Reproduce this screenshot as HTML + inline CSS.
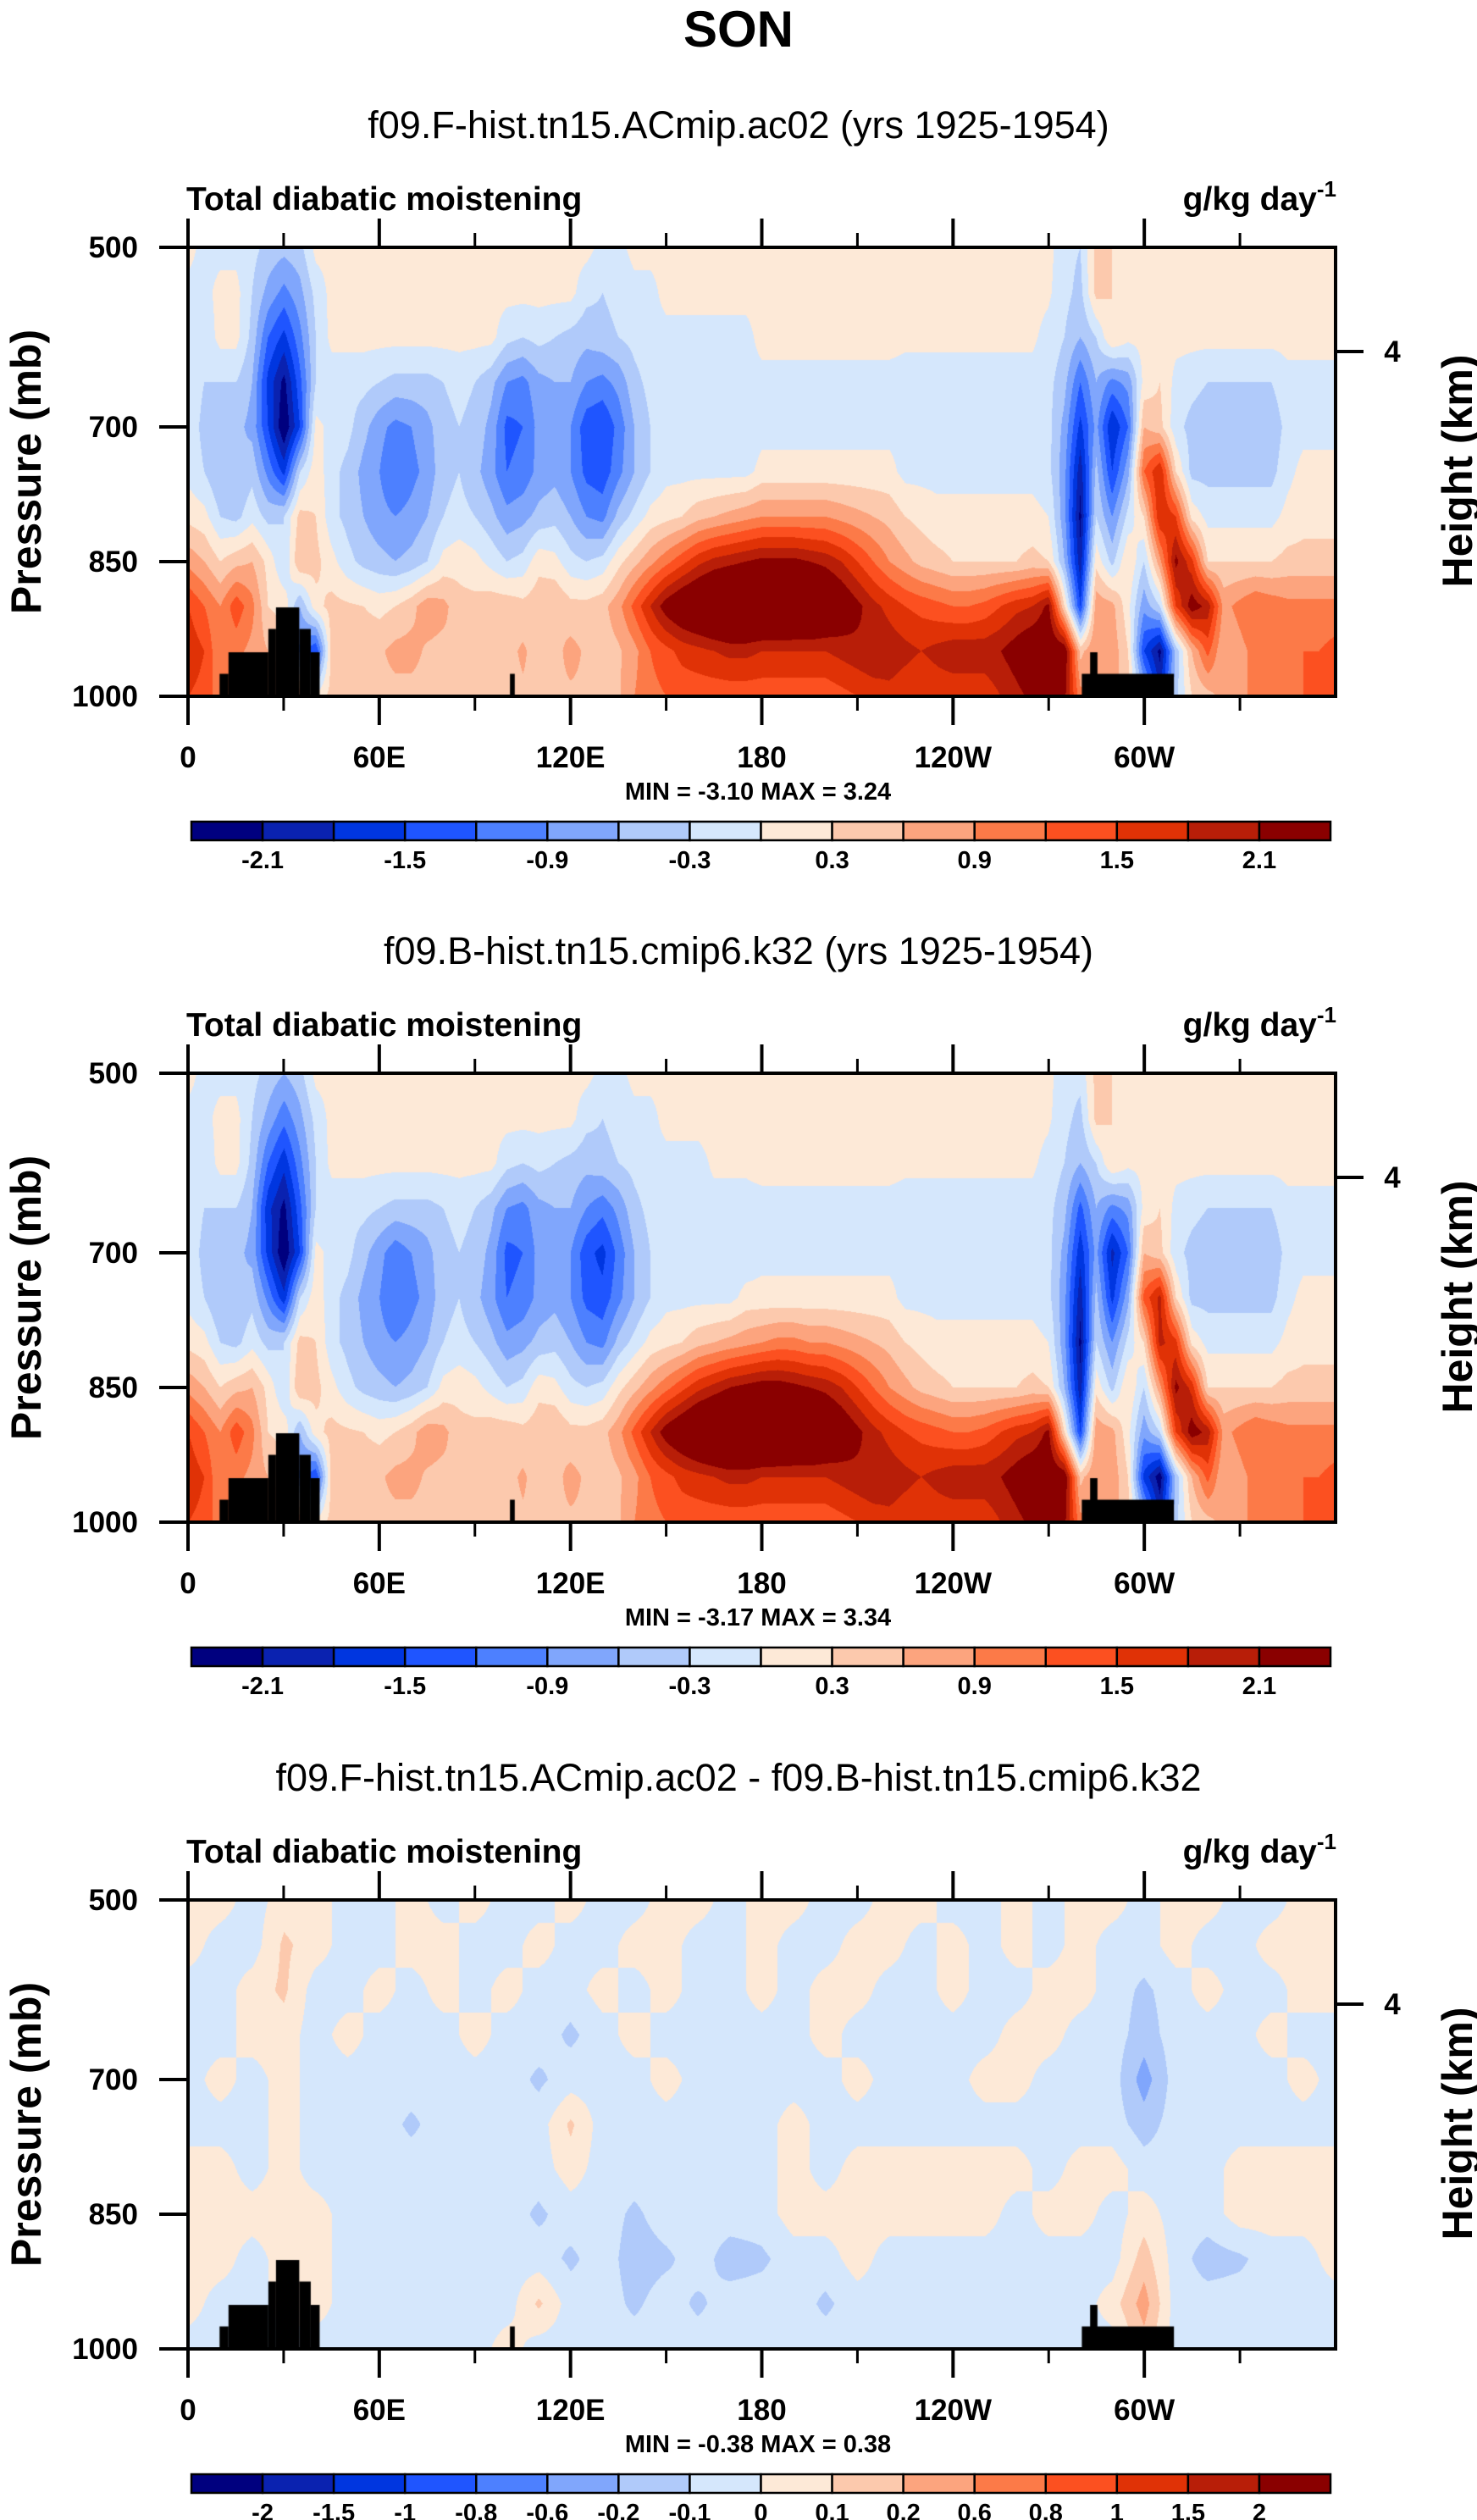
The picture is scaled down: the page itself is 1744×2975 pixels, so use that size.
<!DOCTYPE html>
<html><head><meta charset="utf-8">
<style>
html,body{margin:0;padding:0;background:#fff;}
#root{position:relative;width:1744px;height:2975px;overflow:hidden;background:#fff;}
canvas{position:absolute;}
svg{position:absolute;left:0;top:0;}
text{font-family:"Liberation Sans",Arial,sans-serif;}
</style></head>
<body>
<div id="root">
<canvas id="c1" width="1355" height="530" style="left:222px;top:292px"></canvas>
<canvas id="c2" width="1355" height="530" style="left:222px;top:1267px"></canvas>
<canvas id="c3" width="1355" height="530" style="left:222px;top:2243px"></canvas>
<svg id="ov" width="1744" height="2975"></svg>
</div>
<script>
// ---------- data ----------
const colors=["#00007f","#0a22b0","#0036e0","#1f55ff","#4d80ff","#80a6fc","#b0cafa","#d5e7fc","#fde9d7","#fcc9ad","#fca47e","#fc7a48","#fc5020","#e03206","#b81e08","#8a0000"];
const levels1=[-2.1,-1.8,-1.5,-1.2,-0.9,-0.6,-0.3,0,0.3,0.6,0.9,1.2,1.5,1.8,2.1];
const cbLabels1=["-2.1","","-1.5","","-0.9","","-0.3","","0.3","","0.9","","1.5","","2.1"];
const levels3=[-2,-1.5,-1,-0.8,-0.6,-0.2,-0.1,0,0.1,0.2,0.6,0.8,1,1.5,2];
const cbLabels3=["-2","-1.5","-1","-0.8","-0.6","-0.2","-0.1","0","0.1","0.2","0.6","0.8","1","1.5","2"];
const lonTicks=[0,60,120,180,240,300];
const lonLabels=["0","60E","120E","180","120W","60W"];
const lonMinor=[30,90,150,210,270,330];
const pTicks=[500,700,850,1000];
const heightTickP=[616];
const heightLabels=["4"];
const pressures=[500,550,600,650,700,750,800,850,900,950,1000];
const landLon0=[9.9,12.7,25.2,27.6,34.9,38.5,101,280.4,283];
const landLon1=[12.7,25.2,27.6,34.9,38.5,41.3,102.5,309.3,285.3];
const landTop=[975,951,925,901,925,951,975,975,951];
const subtitles=["f09.F-hist.tn15.ACmip.ac02 (yrs 1925-1954)","f09.B-hist.tn15.cmip6.k32 (yrs 1925-1954)","f09.F-hist.tn15.ACmip.ac02 - f09.B-hist.tn15.cmip6.k32"];
const minmax=["MIN = -3.10  MAX =  3.24","MIN = -3.17  MAX =  3.34","MIN = -0.38  MAX =  0.38"];

const field1=[
[0.1,-0.1,-0.1,-0.1,-0.2,-0.4,-0.5,-0.4,0.1, 0.1,0.1,0.1,0.1,0.1,0.1,0.1,0.1,0.1,0.1,0.1,0.1,0.1,0.1,0.1,0.1,0.1, -0.1,-0.1, 0.1,0.1,0.1,0.1,0.1,0.1,0.1,0.1,0.1,0.1,0.1,0.1,0.1,0.1,0.1,0.1,0.1,0.1,0.1,0.1,0.1,0.1,0.1,0.1,0.1,0.1,0.1, -0.2,-0.3,0.4,0.3,0.1, 0.1,0.1,0.1,0.1,0.1,0.1,0.1,0.1,0.1,0.1,0.1,0.1,0.1],
[-0.1,-0.1,0.1,0.1,-0.3,-0.7,-1.0,-0.7,-0.2, 0.1,0.1,0.1,0.1,0.1,0.1,0.1,0.1,0.1,0.1,0.1,0.1,0.1,0.1,0.1,0.1, -0.2,-0.3,-0.2,-0.1,-0.1, 0.1,0.1,0.1,0.1,0.1,0.1,0.1,0.1,0.1,0.1,0.1,0.1,0.1,0.1,0.1,0.1,0.1,0.1,0.1,0.1,0.1,0.1,0.1,0.1, 0.05,-0.2,-0.4,0.4,0.3,0.1, 0.1,0.1,0.1,0.1,0.1,0.1,0.1,0.1,0.1,0.1,0.1,0.1,0.1],
[-0.1,-0.2,0.1,0.1,-0.4,-1.2,-1.6,-1.0,-0.3, 0.1,0.1,0.1,0.1,0.1,0.1,0.1,0.1,0.1,0.1,0.1, -0.2,-0.3,-0.2,-0.3,-0.4,-0.5,-0.4,-0.3,-0.2, -0.1,-0.1,-0.1,-0.1,-0.1,-0.1,-0.1, 0.1,0.1,0.1,0.1,0.1,0.1,0.1,0.1,0.1, 0.05,0.05,0.05,0.05,0.05,0.05,0.05,0.05,0.05, -0.1,-0.3,-0.6,-0.3,0.3,0.1, 0.1,0.1,0.1,0.1,0.1,0.1,0.1,0.1,0.1,0.1,0.1,0.1,0.1],
[-0.1,-0.3,-0.3,-0.3,-0.6,-1.6,-2.2,-1.3,-0.3,-0.2,-0.2,-0.2,-0.3,-0.4,-0.4,-0.4,-0.3,-0.2,-0.3,-0.5,-0.9,-1.0,-0.7,-0.6,-0.6,-0.9,-1.0,-0.8,-0.4,-0.2, -0.1,-0.1,-0.1,-0.1,-0.1,-0.1,-0.1,-0.1,-0.1,-0.1,-0.1,-0.1,-0.1,-0.1,-0.1,-0.1,-0.1,-0.1,-0.1,-0.1,-0.1,-0.1,-0.1,-0.1, -0.2,-0.5,-1.2,-0.6,-1.0,-0.8,0.1,0.3,-0.1,-0.2,-0.3,-0.3,-0.3,-0.3,-0.3,-0.1,-0.1,-0.1,-0.1],
[-0.1,-0.4,-0.5,-0.5,-0.7,-1.5,-2.4,-1.5,0.1,-0.1,-0.2,-0.5,-0.8,-1.0,-0.9,-0.7,-0.4,-0.3,-0.4,-0.7,-1.3,-1.2,-0.8,-0.7,-0.9,-1.4,-1.5,-1.1,-0.6,-0.3, -0.2,-0.2,-0.2,-0.2,-0.2,-0.2, -0.1,-0.1,-0.1,-0.1,-0.1,-0.1,-0.1,-0.1,-0.1,-0.1,-0.1,-0.1,-0.1,-0.1,-0.1,-0.1,-0.1,-0.1, -0.2,-0.7,-1.6,-0.8,-1.8,-1.2,0.6,0.4,-0.2,-0.4,-0.5,-0.5,-0.5,-0.5,-0.5,-0.2,-0.1,-0.1,-0.1],
[-0.1,-0.3,-0.6,-0.6,-0.4,-1.0,-1.6,-0.3,0.2,-0.2,-0.4,-0.7,-0.9,-1.2,-1.0,-0.8,-0.4,-0.3,-0.5,-0.8,-1.2,-1.1,-0.8,-0.7,-0.9,-1.3,-1.4,-1.0,-0.6,-0.3, -0.1,-0.1,-0.1,-0.1,-0.1,-0.1, 0.1,0.1,0.1,0.1,0.1,0.1,0.1,0.1,0.1, -0.1,-0.1,-0.1,-0.1,-0.1,-0.1,-0.1,-0.1,-0.1, -0.2,-0.8,-2.0,-0.5,-1.5,-0.7,1.2,1.8,0.3,-0.4,-0.4,-0.4,-0.4,-0.4,-0.4,-0.1,0.1,0.1,0.1],
[0.2,0.1,-0.3,-0.4,-0.1,-0.4,-0.3,0.4,0.3,-0.2,-0.4,-0.6,-0.8,-0.9,-0.8,-0.6,-0.3,-0.2,-0.3,-0.5,-0.8,-0.7,-0.5,-0.4,-0.6,-0.9,-1.0,-0.5,-0.2,0.1, 0.2,0.3,0.5,0.6,0.7,0.8,0.9,0.9,0.9,0.9,0.9,0.8,0.7,0.6,0.5,0.3,0.2, 0.1,0.1,0.1,0.1,0.1,0.1,0.1, 0.0,-0.8,-2.2,-0.3,-0.9,-0.2,0.3,1.8,1.5,0.2,-0.1,-0.1,-0.1,-0.1,-0.1,0.1,0.2,0.2,0.2],
[0.8,0.6,0.3,0.5,0.6,0.2,-0.3,0.6,0.4,0.1,-0.2,-0.4,-0.5,-0.6,-0.5,-0.3,0.1,0.2,0.1,-0.1,-0.3,-0.2,0.2,0.1,-0.2,-0.3,-0.2,0.2,0.5,0.8, 1.1,1.4,1.7,1.9,2.0,2.1,2.2,2.2,2.2,2.1,2.0,1.8,1.5,1.2,0.9,0.7,0.5,0.4, 0.3,0.3,0.3,0.3,0.3, 0.4,0.3,-0.6,-2.0,0.2,-0.4,0.3,-0.3,0.8,2.2,1.6,0.3,0.3,0.3,0.3,0.3,0.4,0.4,0.4,0.4],
[1.5,1.2,0.9,1.4,1.0,0.3,0.2,-0.6,0.2, 0.4,0.35,0.3,0.2,0.3,0.5,0.8,0.7,0.4,0.4,0.5,0.5,0.4,0.5,0.6,0.4,0.4,0.5,0.8, 1.3,1.8, 2.3,2.6,2.8,3.0,3.1,3.1,3.1,3.1,3.0,3.0,2.8,2.5,2.2,1.9,1.7,1.5,1.4,1.3,1.2,1.2,1.3,1.5,1.7,1.8, 2.2,0.3,-1.5,0.8,0.7,0.1,-0.8,-0.3,1.5,2.3,2.0,0.8,1.0,1.2,1.1,1.0,1.0,1.0,1.0],
[1.7,1.5,0.9,1.0,0.8,0.6,0.4,-1.0,-1.5, 0.45,0.5,0.5,0.55,0.7,0.7,0.55,0.5,0.6,0.5,0.45,0.5,0.65,0.45,0.5,0.7,0.55,0.45,0.55,0.8, 1.2,1.4,1.6,1.7,1.8,1.9,1.9,1.8,1.8,1.8,1.8,1.8,1.9,2.0,2.1,2.0,1.9,1.8,1.9,2.0,2.0,2.0,2.1,2.3,2.5, 2.5,2.4,0.5,0.9,0.8,0.3,-1.5,-2.2,-0.5,0.6,1.3,0.6,0.8,1.0,1.1,1.2,1.2,1.2,1.3],
[1.5,1.4,1.0,0.9,0.9,0.9,0.9,0.9,0.1, 0.4,0.45,0.5,0.5,0.5,0.5,0.5,0.5,0.5,0.5,0.5,0.5,0.55,0.55,0.55,0.55,0.55,0.55,0.55, 0.9,1.1,1.2,1.3,1.3,1.3,1.3,1.3,1.3,1.3,1.3,1.3,1.3,1.4,1.5,1.6,1.7,1.6,1.5,1.6,1.6,1.6,1.6,1.8,2.0,2.2, 2.4,2.2,1.0,0.9,0.7,0.5,-0.5,-1.8,-0.4,0.3,0.5,0.7,0.9,0.9,1.0,1.1,1.2,1.3,1.4]
];
const field2=[
[0.1,-0.1,-0.1,-0.1,-0.2,-0.4,-0.6,-0.4,0.1, 0.1,0.1,0.1,0.1,0.1,0.1,0.1,0.1,0.1,0.1,0.1,0.1,0.1,0.1,0.1,0.1,0.1, -0.1,-0.1, 0.1,0.1,0.1,0.1,0.1,0.1,0.1,0.1,0.1,0.1,0.1,0.1,0.1,0.1,0.1,0.1,0.1,0.1,0.1,0.1,0.1,0.1,0.1,0.1,0.1,0.1,0.1, -0.2,-0.2,0.4,0.3,0.1, 0.1,0.1,0.1,0.1,0.1,0.1,0.1,0.1,0.1,0.1,0.1,0.1,0.1],
[-0.1,-0.1,0.1,0.1,-0.3,-0.7,-1.1,-0.7,-0.2, 0.1,0.1,0.1,0.1,0.1,0.1,0.1,0.1,0.1,0.1,0.1,0.1,0.1,0.1,0.1,0.1, -0.2,-0.3,-0.2,-0.1,-0.1, 0.1,0.1,0.1,0.1,0.1,0.1,0.1,0.1,0.1,0.1,0.1,0.1,0.1,0.1,0.1,0.1,0.1,0.1,0.1,0.1,0.1,0.1,0.1,0.1, 0.05,-0.2,-0.4,0.4,0.3,0.1, 0.1,0.1,0.1,0.1,0.1,0.1,0.1,0.1,0.1,0.1,0.1,0.1,0.1],
[-0.1,-0.2,0.1,0.1,-0.4,-1.2,-1.7,-1.0,-0.3, 0.1,0.1,0.1,0.1,0.1,0.1,0.1,0.1,0.1,0.1,0.1, -0.2,-0.3,-0.2,-0.3,-0.4,-0.5,-0.4,-0.3,-0.2, -0.1,-0.1,-0.1,-0.1,0.05,0.05,0.05, 0.1,0.1,0.1,0.1,0.1,0.1,0.1,0.1,0.1, 0.05,0.05,0.05,0.05,0.05,0.05,0.05,0.05,0.05, -0.1,-0.3,-0.6,-0.3,0.3,0.1, 0.1,0.1,0.1,0.1,0.1,0.1,0.1,0.1,0.1,0.1,0.1,0.1,0.1],
[-0.1,-0.3,-0.3,-0.3,-0.6,-1.7,-2.2,-1.3,-0.3,-0.2,-0.2,-0.2,-0.3,-0.4,-0.4,-0.4,-0.3,-0.2,-0.3,-0.5,-0.9,-1.0,-0.7,-0.6,-0.6,-0.9,-1.1,-0.8,-0.4,-0.2, -0.1,-0.1,-0.1,-0.1,-0.1,-0.1,-0.1,-0.1,-0.1,-0.1,-0.1,-0.1,-0.1,-0.1,-0.1,-0.1,-0.1,-0.1,-0.1,-0.1,-0.1,-0.1,-0.1,-0.1, -0.2,-0.5,-1.3,-0.6,-1.0,-0.8,0.1,0.3,-0.1,-0.2,-0.3,-0.3,-0.3,-0.3,-0.3,-0.1,-0.1,-0.1,-0.1],
[-0.1,-0.4,-0.5,-0.5,-0.7,-1.6,-2.4,-1.5,0.1,-0.1,-0.2,-0.5,-0.8,-1.1,-0.9,-0.7,-0.4,-0.3,-0.4,-0.7,-1.3,-1.2,-0.8,-0.7,-0.9,-1.4,-1.6,-1.1,-0.6,-0.3, -0.2,-0.2,-0.2,-0.2,-0.2,-0.2, -0.1,-0.1,-0.1,-0.1,-0.1,-0.1,-0.1,-0.1,-0.1,-0.1,-0.1,-0.1,-0.1,-0.1,-0.1,-0.1,-0.1,-0.1, -0.2,-0.7,-1.7,-0.8,-1.9,-1.2,0.6,0.4,-0.2,-0.4,-0.5,-0.5,-0.5,-0.5,-0.5,-0.2,-0.1,-0.1,-0.1],
[-0.1,-0.3,-0.6,-0.6,-0.4,-1.0,-1.7,-0.3,0.2,-0.2,-0.4,-0.7,-0.9,-1.2,-1.0,-0.8,-0.4,-0.3,-0.5,-0.8,-1.2,-1.1,-0.8,-0.7,-0.9,-1.3,-1.4,-1.0,-0.6,-0.3, -0.1,-0.1,-0.1,-0.1,-0.1,0.1, 0.1,0.1,0.1,0.1,0.1,0.1,0.1,0.1,0.1, -0.1,-0.1,-0.1,-0.1,-0.1,-0.1,-0.1,-0.1,-0.1, -0.2,-0.8,-2.0,-0.5,-1.6,-0.7,1.3,1.9,0.3,-0.4,-0.4,-0.4,-0.4,-0.4,-0.4,-0.1,0.1,0.1,0.1],
[0.2,0.1,-0.3,-0.4,-0.1,-0.4,-0.3,0.4,0.3,-0.2,-0.4,-0.6,-0.8,-0.9,-0.8,-0.6,-0.3,-0.2,-0.3,-0.5,-0.8,-0.7,-0.5,-0.4,-0.6,-0.9,-1.0,-0.5,-0.2,0.1, 0.2,0.3,0.5,0.6,0.7,0.8,0.9,1.0,1.0,0.9,0.9,0.8,0.7,0.6,0.5,0.3,0.2, 0.1,0.1,0.1,0.1,0.1,0.1,0.1, 0.0,-0.8,-2.2,-0.3,-0.9,-0.2,0.3,1.9,1.6,0.2,-0.1,-0.1,-0.1,-0.1,-0.1,0.1,0.2,0.2,0.2],
[0.8,0.6,0.3,0.5,0.6,0.2,-0.3,0.6,0.4,0.1,-0.2,-0.4,-0.5,-0.6,-0.5,-0.3,0.1,0.2,0.1,-0.1,-0.3,-0.2,0.2,0.1,-0.2,-0.3,-0.2,0.2,0.5,0.8, 1.1,1.4,1.7,1.9,2.1,2.2,2.3,2.3,2.2,2.1,2.0,1.8,1.5,1.2,0.9,0.7,0.5,0.4, 0.3,0.3,0.3,0.3,0.3, 0.4,0.3,-0.6,-2.0,0.2,-0.4,0.3,-0.3,0.8,2.2,1.7,0.3,0.3,0.3,0.3,0.3,0.4,0.4,0.4,0.4],
[1.5,1.2,0.9,1.4,1.0,0.3,0.2,-0.6,0.2, 0.4,0.35,0.3,0.2,0.3,0.5,0.8,0.7,0.4,0.4,0.5,0.5,0.4,0.5,0.6,0.4,0.4,0.5,0.8, 1.3,1.8, 2.3,2.6,2.9,3.1,3.2,3.2,3.2,3.1,3.0,3.0,2.8,2.5,2.2,1.9,1.7,1.5,1.4,1.3,1.2,1.2,1.3,1.5,1.7,1.8, 2.2,0.3,-1.5,0.8,0.7,0.1,-0.8,-0.3,1.5,2.3,2.0,0.8,1.0,1.2,1.1,1.0,1.0,1.0,1.0],
[1.7,1.5,0.9,1.0,0.8,0.6,0.4,-1.0,-1.5, 0.45,0.5,0.5,0.55,0.7,0.7,0.55,0.5,0.6,0.5,0.45,0.5,0.65,0.45,0.5,0.7,0.55,0.45,0.55,0.8, 1.2,1.4,1.6,1.7,1.8,1.9,1.9,1.8,1.8,1.8,1.8,1.8,1.9,2.0,2.1,2.0,1.9,1.8,1.9,2.0,2.0,2.0,2.1,2.3,2.5, 2.5,2.4,0.5,0.9,0.8,0.3,-1.6,-2.3,-0.5,0.6,1.3,0.6,0.8,1.0,1.1,1.2,1.2,1.2,1.3],
[1.5,1.4,1.0,0.9,0.9,0.9,0.9,0.9,0.1, 0.4,0.45,0.5,0.5,0.5,0.5,0.5,0.5,0.5,0.5,0.5,0.5,0.55,0.55,0.55,0.55,0.55,0.55,0.55, 0.9,1.1,1.2,1.3,1.3,1.3,1.3,1.3,1.3,1.3,1.3,1.3,1.3,1.4,1.5,1.6,1.7,1.6,1.5,1.6,1.6,1.6,1.6,1.8,2.0,2.2, 2.4,2.2,1.0,0.9,0.7,0.5,-0.5,-1.8,-0.4,0.3,0.5,0.7,0.9,0.9,1.0,1.1,1.2,1.3,1.4]
];
const field3=[
[0.05,0.05,-0.05,0.05,0.05,-0.05,-0.05,0.05,-0.05,0.05,-0.05,-0.05,0.05,-0.05,-0.05,0.05,0.05,-0.05,0.05,0.05,-0.05,-0.05,0.05,0.05,-0.05,-0.05,0.05,-0.05,0.05,0.05,-0.05,0.05,0.05,-0.05,-0.05,0.05,0.05],
[0.05,-0.05,-0.05,0.12,0.05,-0.05,-0.05,0.05,0.05,-0.05,-0.05,0.05,-0.05,-0.05,0.05,0.05,-0.05,-0.05,0.05,-0.05,-0.05,0.05,0.05,-0.05,0.05,-0.05,0.05,-0.05,0.05,-0.05,-0.05,0.05,-0.05,-0.05,0.05,0.05,0.05],
[-0.05,-0.05,0.05,0.12,-0.05,-0.05,0.05,-0.05,0.05,-0.05,0.05,-0.05,-0.05,0.05,-0.05,0.05,-0.05,-0.05,0.05,-0.05,0.05,0.05,-0.05,-0.05,0.05,-0.05,-0.05,0.05,0.05,-0.05,-0.12,-0.05,0.05,-0.05,-0.05,0.05,0.05],
[-0.05,-0.05,0.05,0.05,-0.05,0.05,-0.05,-0.05,-0.05,0.05,-0.05,-0.05,-0.12,-0.05,0.05,-0.05,-0.05,-0.05,-0.05,-0.05,0.05,-0.05,-0.05,-0.05,-0.05,-0.05,0.05,0.05,-0.05,-0.05,-0.15,-0.05,-0.05,-0.05,0.05,-0.05,-0.05],
[-0.05,0.05,-0.05,0.05,-0.05,-0.05,-0.05,-0.05,-0.05,-0.05,-0.05,-0.12,-0.05,-0.05,-0.05,0.05,-0.05,-0.05,-0.05,-0.05,-0.05,0.05,-0.05,-0.05,-0.05,0.05,0.05,-0.05,-0.05,-0.05,-0.25,-0.05,-0.05,-0.05,-0.05,0.05,-0.05],
[-0.05,-0.05,-0.05,0.05,-0.05,-0.05,-0.05,-0.12,-0.05,-0.05,-0.05,-0.05,0.12,-0.05,-0.05,-0.05,-0.05,-0.05,-0.05,0.05,-0.05,-0.05,-0.05,-0.05,-0.05,-0.05,-0.05,-0.05,-0.05,-0.05,-0.15,-0.05,-0.05,-0.05,-0.05,-0.05,-0.05],
[0.05,0.05,-0.05,0.05,-0.05,-0.05,-0.05,-0.05,-0.05,-0.05,-0.05,-0.05,0.05,-0.05,-0.05,-0.05,-0.05,-0.05,-0.05,0.05,-0.05,0.05,0.05,0.05,0.05,0.05,0.05,-0.05,0.05,0.05,-0.05,-0.05,-0.05,0.05,0.05,0.05,0.05],
[0.05,0.05,0.05,0.05,0.05,-0.05,-0.05,-0.05,-0.05,-0.05,-0.05,-0.12,-0.05,-0.05,-0.12,-0.05,-0.05,-0.05,-0.05,0.05,0.05,0.05,0.05,0.05,0.05,0.05,-0.05,0.05,0.05,-0.05,0.05,-0.05,-0.05,0.05,0.05,0.05,0.05],
[0.05,0.05,-0.05,0.05,0.05,-0.05,-0.05,-0.05,-0.05,-0.05,-0.05,-0.05,-0.12,-0.05,-0.15,-0.12,-0.05,-0.15,-0.12,-0.05,-0.05,0.05,-0.05,-0.05,-0.05,-0.05,-0.05,-0.05,-0.05,-0.05,0.15,-0.05,-0.15,-0.12,-0.05,-0.05,0.05],
[0.05,-0.05,-0.05,0.05,0.05,-0.05,-0.05,-0.05,-0.05,-0.05,-0.05,0.12,-0.05,-0.05,-0.12,-0.05,-0.12,-0.05,-0.05,-0.05,-0.12,-0.05,-0.05,-0.05,-0.05,-0.05,-0.05,-0.05,-0.05,0.05,0.25,-0.05,-0.05,-0.05,-0.05,-0.05,-0.05],
[-0.05,-0.05,-0.05,-0.05,-0.05,-0.05,-0.05,-0.05,-0.05,-0.05,0.05,-0.05,-0.05,-0.05,-0.05,-0.05,-0.05,-0.05,-0.05,-0.05,-0.05,-0.05,-0.05,-0.05,-0.05,-0.05,-0.05,-0.05,-0.05,-0.05,0.15,-0.05,-0.05,-0.05,-0.05,-0.05,-0.05]
];

// ---------- geometry ----------
const PX0=222, PW=1355, PH=530;
const panelTops=[292,1267,2243];
function xOf(lon){return PX0+lon/360*PW;}
function yOf(top,p){return top+(p-500)/500*PH;}
function hex(c){return [parseInt(c.substr(1,2),16),parseInt(c.substr(3,2),16),parseInt(c.substr(5,2),16)];}
const rgb=colors.map(hex);

function drawField(id,grid,levels){
  const cv=document.getElementById(id),ctx=cv.getContext('2d');
  const img=ctx.createImageData(PW,PH),d=img.data;
  const nR=grid.length,nC=grid[0].length;
  for(let py=0;py<PH;py++){
    const fr=py/(PH-1)*(nR-1);let r0=Math.floor(fr);if(r0>=nR-1)r0=nR-2;const ty=fr-r0;
    for(let px=0;px<PW;px++){
      const fc=px/(PW-1)*(nC-1);let c0=Math.floor(fc);if(c0>=nC-1)c0=nC-2;const tx=fc-c0;
      const v=(grid[r0][c0]*(1-tx)+grid[r0][c0+1]*tx)*(1-ty)+(grid[r0+1][c0]*(1-tx)+grid[r0+1][c0+1]*tx)*ty;
      let k=0;while(k<levels.length&&v>=levels[k])k++;
      const c=rgb[k],o=(py*PW+px)*4;
      d[o]=c[0];d[o+1]=c[1];d[o+2]=c[2];d[o+3]=255;
    }
  }
  ctx.putImageData(img,0,0);
  ctx.fillStyle='#000';
  for(let i=0;i<landLon0.length;i++){
    const x0=landLon0[i]/360*PW,x1=landLon1[i]/360*PW,y0=(landTop[i]-500)/500*PH;
    ctx.fillRect(x0,y0,x1-x0,PH-y0);
  }
}
drawField('c1',field1,levels1);
drawField('c2',field2,levels1);
drawField('c3',field3,levels3);

// ---------- overlay ----------
const svg=document.getElementById('ov');
const NS='http://www.w3.org/2000/svg';
function mk(tag,attrs,txt){const e=document.createElementNS(NS,tag);for(const k in attrs)e.setAttribute(k,attrs[k]);if(txt!==undefined)e.textContent=txt;svg.appendChild(e);return e;}

let e=mk('text',{x:872,y:55,'text-anchor':'middle','font-size':60,'font-weight':'bold'},'SON');



for(let p=0;p<3;p++){
  const T=panelTops[p];
  const lv=p<2?levels1:levels3, lab=p<2?cbLabels1:cbLabels3;
  e=mk('text',{x:872,y:T-129,'text-anchor':'middle','font-size':45},subtitles[p]);
  
  
  e=mk('text',{x:220,y:T-44,'font-size':39,'font-weight':'bold'},'Total diabatic moistening');
  
  
  e=mk('text',{x:1578,y:T-44,'text-anchor':'end','font-size':39,'font-weight':'bold'});
  e.innerHTML='g/kg day<tspan dy="-16" font-size="26">-1</tspan>';
  
  
  e=mk('rect',{x:PX0,y:T,width:PW,height:PH,fill:'none',stroke:'#000','stroke-width':4});
  
  
  lonTicks.forEach((lon,i)=>{
    const x=xOf(lon);
    let t=mk('line',{x1:x,x2:x,y1:T+PH,y2:T+PH+34,stroke:'#000','stroke-width':4});
    
    
    t=mk('line',{x1:x,x2:x,y1:T,y2:T-34,stroke:'#000','stroke-width':4});
    
    
    t=mk('text',{x:x,y:T+614,'text-anchor':'middle','font-size':35,'font-weight':'bold'},lonLabels[i]);
    
    
  });
  lonMinor.forEach(lon=>{
    const x=xOf(lon);
    let t=mk('line',{x1:x,x2:x,y1:T+PH,y2:T+PH+17,stroke:'#000','stroke-width':3});
    
    
    t=mk('line',{x1:x,x2:x,y1:T,y2:T-17,stroke:'#000','stroke-width':3});
    
    
  });
  pTicks.forEach(pr=>{
    const y=yOf(T,pr);
    let t=mk('line',{x1:188,x2:PX0,y1:y,y2:y,stroke:'#000','stroke-width':4});
    
    
    t=mk('text',{x:163,y:y+12,'text-anchor':'end','font-size':35,'font-weight':'bold'},String(pr));
    
    
  });
  heightTickP.forEach((pr,i)=>{
    const y=yOf(T,pr);
    let t=mk('line',{x1:PX0+PW,x2:PX0+PW+33,y1:y,y2:y,stroke:'#000','stroke-width':4});
    
    
    t=mk('text',{x:1644,y:y+12,'text-anchor':'middle','font-size':35,'font-weight':'bold'},heightLabels[i]);
    
    
  });
  e=mk('text',{x:0,y:0,'text-anchor':'middle','font-size':50,'font-weight':'bold',transform:`translate(48,${T+265}) rotate(-90)`},'Pressure (mb)');
  
  
  e=mk('text',{x:0,y:0,'text-anchor':'middle','font-size':50,'font-weight':'bold',transform:`translate(1738,${T+264}) rotate(-90)`},'Height (km)');
  
  
  e=mk('text',{x:895,y:T+652,'text-anchor':'middle','font-size':29,'font-weight':'bold','xml:space':'preserve'},minmax[p]);
  
  
  const cx0=226,cw=(1571-226)/16,cy=T+678,ch=22;
  colors.forEach((c,k)=>{
    const r=mk('rect',{x:cx0+k*cw,y:cy,width:cw,height:ch,fill:c,stroke:'#000','stroke-width':2.5});
    
    
  });
  lv.forEach((v,k)=>{
    if(!lab[k])return;
    const t=mk('text',{x:cx0+(k+1)*cw,y:T+733,'text-anchor':'middle','font-size':29,'font-weight':'bold'},lab[k]);
    
    
  });
}
</script>
</body></html>
